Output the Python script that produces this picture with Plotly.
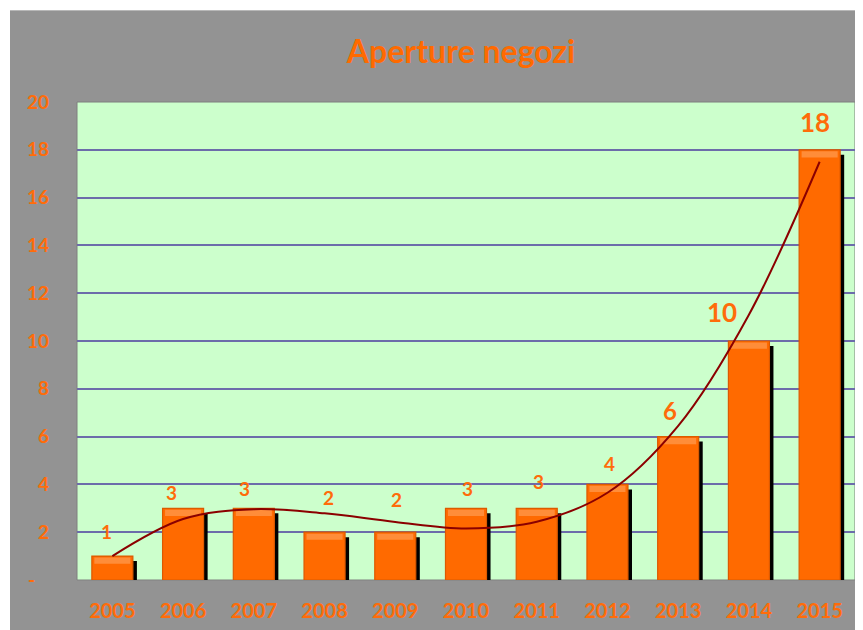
import plotly.graph_objects as go

# ---------------- data ----------------
years = [2005, 2006, 2007, 2008, 2009, 2010, 2011, 2012, 2013, 2014, 2015]
openings = [1, 3, 3, 2, 2, 3, 3, 4, 6, 10, 18]
# trendline values at each year
trend = [1.0, 2.55, 2.96, 2.79, 2.43, 2.16, 2.44, 3.65, 6.45, 11.1, 17.5]
y_ticks = [0, 2, 4, 6, 8, 10, 12, 14, 16, 18, 20]
y_tick_labels = ["-\u00a0\u00a0\u00a0", "2", "4", "6", "8", "10", "12", "14", "16", "18", "20"]
x_tick_labels = [str(y) for y in years]
title_text = "Aperture negozi"

# ---------------- styles ----------------
ORANGE = "#ff6a00"
LABEL_ORANGE = "#ff6c0a"
FONT = "Lato"
label_sizes = [19, 19, 19, 19, 19, 19, 19, 19, 24, 26, 26]
label_dx = [-6, -12, -9, 4, 1, 1, 2, 2, -8, -27, -5]
label_dy = [25, 16, 20, 35, 33, 20, 27, 21, 26, 29, 28]

bar_w = 0.58

# the page body has an 8px margin, so the figure is 855x622 and fits the 863x630 window
W, H = 855, 622
ML, MR, MT, MB = 69, 8, 94, 50
PW, PH = W - ML - MR, H - MT - MB

fig = go.Figure()

# shadow bars
fig.add_trace(go.Bar(
    x=years, y=openings, base=[-0.21] * len(years), width=bar_w, offset=-bar_w / 2 + 0.057,
    marker=dict(color="#000000", line=dict(width=0)), hoverinfo="skip", showlegend=False))
# main bars
fig.add_trace(go.Bar(
    x=years, y=openings, width=bar_w, offset=-bar_w / 2,
    marker=dict(color=ORANGE, line=dict(color="#dc5a00", width=1.2)), showlegend=False))
# top highlight band
fig.add_trace(go.Bar(
    x=years, y=[0.26] * len(years), base=[v - 0.32 for v in openings], width=bar_w - 0.07,
    offset=-(bar_w - 0.07) / 2,
    marker=dict(color="rgba(255,165,95,0.6)", line=dict(width=0)), hoverinfo="skip", showlegend=False))

# trendline
fig.add_trace(go.Scatter(x=years, y=trend, mode="lines",
                         line=dict(color="#8b0000", width=2, shape="spline", smoothing=1.0),
                         hoverinfo="skip", showlegend=False))

# data labels
for yr, v, s, dx, dy in zip(years, openings, label_sizes, label_dx, label_dy):
    fig.add_annotation(x=yr, y=v, text=str(v), showarrow=False, xshift=dx, yshift=dy,
                       yanchor="middle", xanchor="center",
                       font=dict(family=FONT, size=s, color=LABEL_ORANGE, weight="bold"))

# background panels (gray panel starts 2px right / 3px below the figure corner)
fig.add_shape(type="rect", xref="paper", yref="paper",
              x0=(2 - ML) / PW, x1=1 + (MR + 10) / PW,
              y0=-(MB + 10) / PH, y1=1 + (MT - 3) / PH,
              fillcolor="#939393", line=dict(width=0), layer="below")
fig.add_shape(type="rect", xref="paper", yref="paper", x0=(2 - ML) / PW, x1=1 + (MR + 10) / PW,
              y0=1 + (MT - 3) / PH, y1=1 + (MT - 2) / PH,
              fillcolor="#b8b8b8", line=dict(width=0), layer="below")
fig.add_shape(type="rect", xref="paper", yref="paper", x0=0, x1=1, y0=0, y1=1,
              fillcolor="#ccffcc", line=dict(color="#7f7f7f", width=1), layer="below")

fig.update_layout(
    width=W, height=H,
    margin=dict(l=ML, r=MR, t=MT, b=MB, autoexpand=False),
    paper_bgcolor="#ffffff", plot_bgcolor="rgba(0,0,0,0)",
    barmode="overlay",
    title=dict(text=title_text, x=453 / W, xanchor="center", y=1 - 44 / H, yanchor="middle",
               font=dict(family=FONT, size=32, color=ORANGE, weight="bold")),
    xaxis=dict(range=[years[0] - 0.5, years[-1] + 0.5], tickvals=years, ticktext=x_tick_labels,
               showgrid=False, zeroline=False, showline=False, ticks="", automargin=False,
               ticklabelstandoff=17,
               tickfont=dict(family=FONT, size=20, color=LABEL_ORANGE, weight="bold")),
    yaxis=dict(range=[0, 20], tickvals=y_ticks, ticktext=y_tick_labels,
               showgrid=True, gridcolor="#6c6caa", gridwidth=2,
               zeroline=True, zerolinecolor="#8a8a8a", zerolinewidth=1,
               showline=False, ticks="", ticklabelstandoff=27, automargin=False,
               tickfont=dict(family=FONT, size=19, color=LABEL_ORANGE, weight="bold")),
)

fig.write_html("out.html")
